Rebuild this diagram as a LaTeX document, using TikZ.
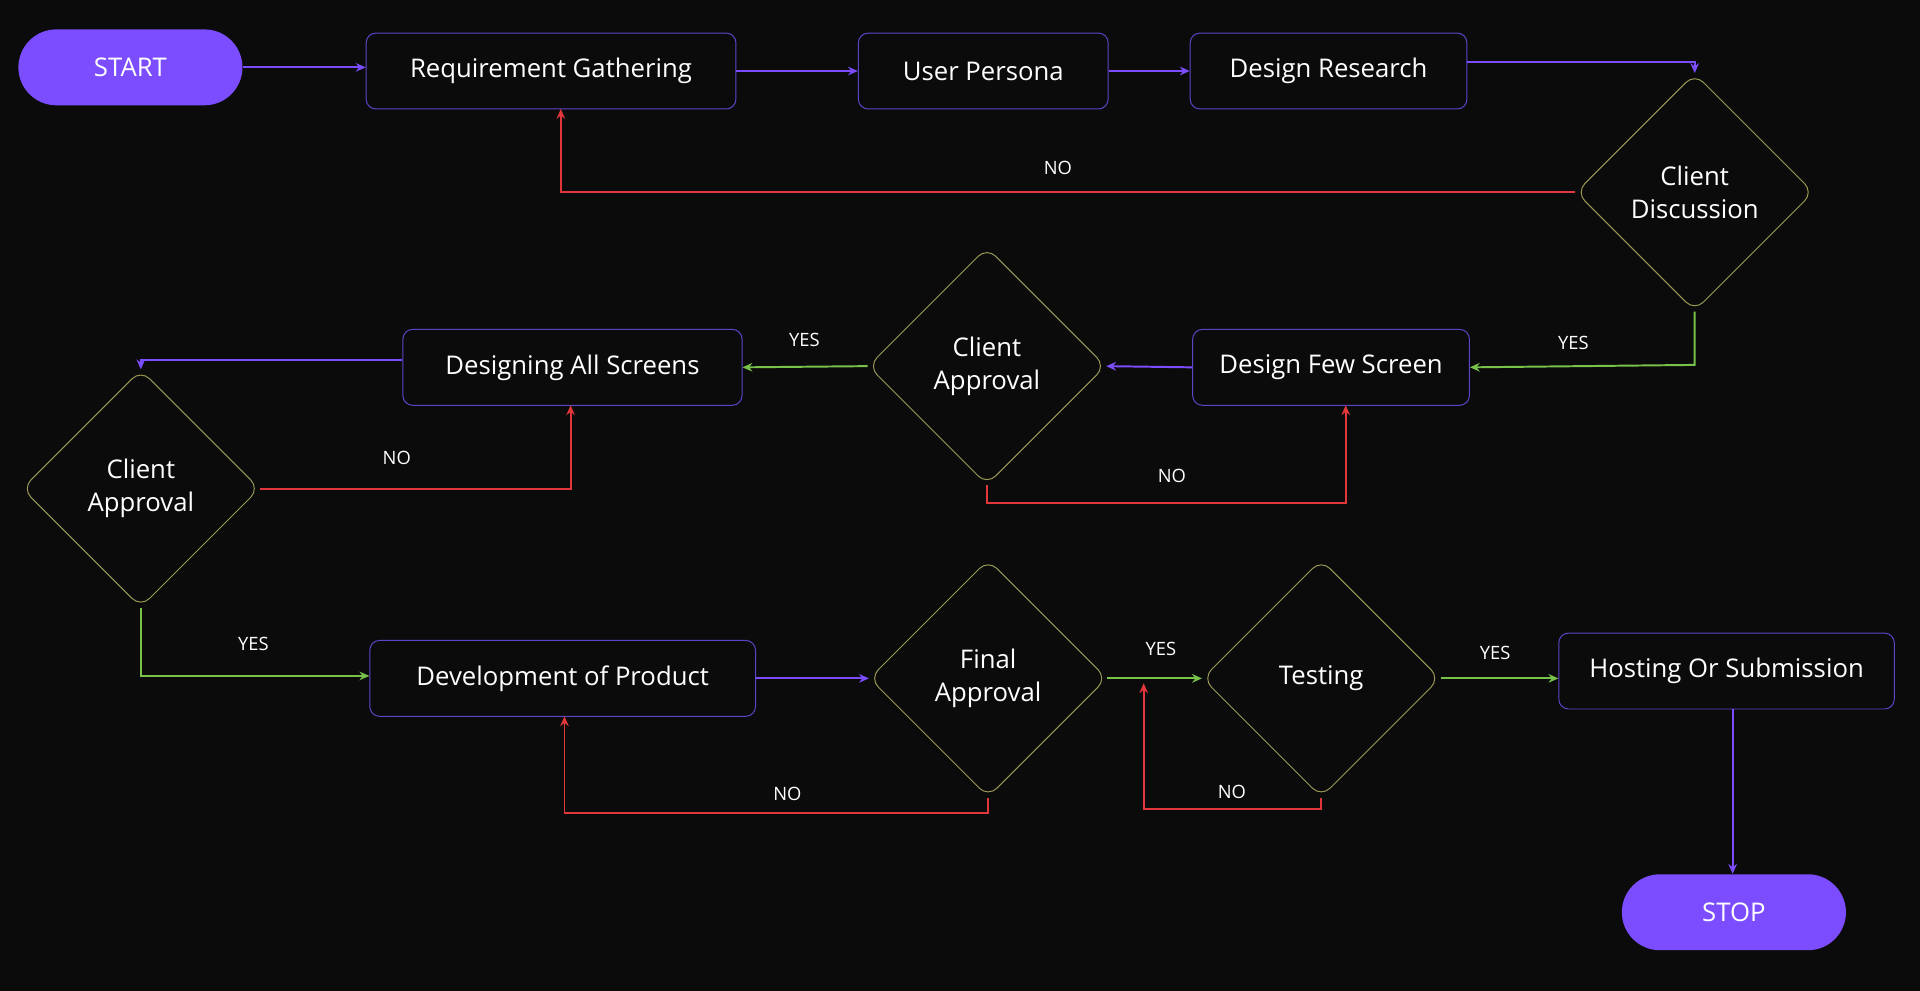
\documentclass[tikz,border=0pt]{standalone}
\usepackage{fontspec}
\setmainfont{Open Sans}
\usetikzlibrary{shapes.geometric,arrows.meta}
\definecolor{bg}{HTML}{0B0B0B}
\definecolor{pur}{HTML}{7B4DFF}
\definecolor{bord}{HTML}{5E45C8}
\definecolor{dia}{HTML}{9A9A55}
\definecolor{grn}{HTML}{78C24A}
\definecolor{rd}{HTML}{E0383A}
\begin{document}
\begin{tikzpicture}[x=0.5pt,y=-0.5pt,
  box/.style={draw=bord,fill=bg,rounded corners=4pt,line width=0.4pt,text=white,font=\fontsize{10.5}{12}\selectfont,inner sep=0pt},
  pill/.style={fill=pur,rounded corners=15.5pt,text=white,font=\fontsize{10.5}{12}\selectfont,minimum width=91.5pt,minimum height=31pt},
  dmd/.style={diamond,draw=dia,line width=0.4pt,fill=bg,rounded corners=5pt,minimum width=97pt,minimum height=97pt,inner sep=0pt,align=center,text=white,font=\fontsize{10.5}{13.5}\selectfont},
  ar/.style={line width=0.8pt,-{Stealth[length=4pt,width=3.5pt]}},
  pa/.style={ar,draw=pur},ga/.style={ar,draw=grn},ra/.style={ar,draw=rd},
  lb/.style={text=white,font=\fontsize{7.5}{9}\selectfont}]
\fill[bg] (0,0) rectangle (1568,809);
\useasboundingbox (0,0) rectangle (1568,809);
\node[pill] (start) at (106.5,55) {START};
\node[box,minimum width=151pt,minimum height=31pt] (rg) at (450,58) {Requirement Gathering};
\node[box,minimum width=102pt,minimum height=31pt] (up) at (803,58) {User Persona};
\node[box,minimum width=113pt,minimum height=31pt] (dr) at (1085,58) {Design Research};
\node[dmd] (cd) at (1384,157) {Client\\Discussion};
\node[box,minimum width=113pt,minimum height=31pt] (dfs) at (1087,300) {Design Few Screen};
\node[dmd] (ca1) at (806,299) {Client\\Approval};
\node[box,minimum width=138.5pt,minimum height=31pt] (das) at (467.5,300) {Designing All Screens};
\node[dmd] (ca2) at (115,399) {Client\\Approval};
\node[box,minimum width=157.5pt,minimum height=31pt] (dev) at (459.5,554) {Development of Product};
\node[dmd] (fa) at (807,554) {Final\\Approval};
\node[dmd] (te) at (1079,554) {Testing};
\node[box,minimum width=137pt,minimum height=31pt] (host) at (1410,548) {Hosting Or Submission};
\node[pill] (stop) at (1416,745) {STOP};
\draw[pa] (start.east) -- (rg.west |- start.east);
\draw[pa] (rg.east) -- (up.west);
\draw[pa] (up.east) -- (dr.west);
\draw[pa] (dr.east |- 0,51) -- (1384,51) -- (cd.north);
\draw[ra] (cd.west) -- (458,157) -- (458,89);
\node[lb] (l1) at (864,137) {NO};
\draw[ga] (cd.south) -- (1384,298) -- (dfs.east);
\node[lb] (l2) at (1285,280) {YES};
\draw[pa] (dfs.west) -- (ca1.east);
\draw[ra] (ca1.south) -- (806,411) -- (1099,411) -- (1099,331);
\node[lb] (l3) at (957,389) {NO};
\draw[ga] (ca1.west) -- (das.east);
\node[lb] (l4) at (657,278) {YES};
\draw[pa] (das.west |- 0,294) -- (115,294) -- (ca2.north);
\draw[ra] (ca2.east) -- (466,399) -- (466,331);
\node[lb] (l5) at (324,374) {NO};
\draw[ga] (ca2.south) -- (115,552) -- (dev.west |- 0,552);
\node[lb] (l6) at (207,526) {YES};
\draw[pa] (dev.east) -- (fa.west);
\draw[ra] (fa.south) -- (807,664) -- (461,664) -- (461,585);
\node[lb] (l7) at (643,648) {NO};
\draw[ga] (fa.east) -- (te.west);
\node[lb] (l8) at (948,530) {YES};
\draw[ra] (te.south) -- (1079,661) -- (934,661) -- (934,558);
\node[lb] (l9) at (1006,647) {NO};
\draw[ga] (te.east) -- (host.west |- te.east);
\node[lb] (l10) at (1221,533) {YES};
\draw[pa] (1415,579) -- (stop.north -| 1415,0);
\end{tikzpicture}
\end{document}
